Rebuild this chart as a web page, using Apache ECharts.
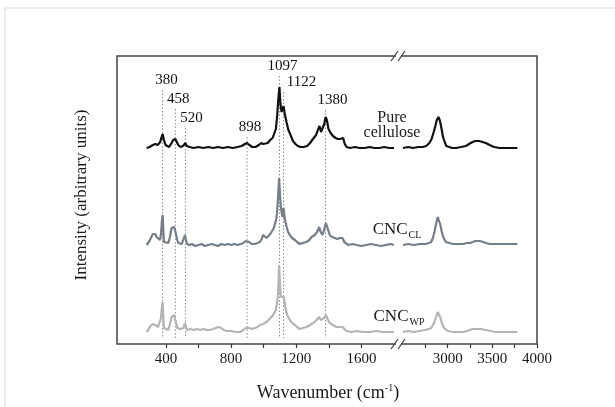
<!DOCTYPE html>
<html>
<head>
<meta charset="utf-8">
<script src="https://cdn.jsdelivr.net/npm/echarts@6/dist/echarts.min.js"></script>
<style>
  html, body { margin: 0; padding: 0; background: #fff; }
  #chart { width: 615px; height: 407px; }
</style>
</head>
<body>
<div id="chart"></div>
<script>
// spectra, [wavenumber, intensity + offset]
const pureLeft = [[282,196],[300,197],[320,199],[335,200],[350,199],[365,202],[372,206],[380,210],[388,204],[398,199],[410,198],[420,197],[435,201],[445,204],[458,205],[468,204],[476,199],[490,197],[505,198],[513,200],[520,201],[528,198],[545,197],[570,196],[600,197],[630,196],[660,197],[690,196],[720,197],[750,196],[780,197],[810,196],[840,197],[865,198],[885,200],[898,201],[912,199],[930,197],[950,197],[970,199],[985,201],[998,200],[1010,202],[1025,201],[1040,204],[1055,206],[1065,208],[1075,215],[1083,228],[1090,245],[1097,257],[1103,240],[1110,232],[1116,234],[1122,238],[1130,230],[1140,222],[1152,214],[1165,209],[1180,203],[1195,200],[1210,198],[1226,197],[1245,197],[1267,198],[1285,201],[1298,204],[1310,206],[1322,209],[1335,215],[1343,218],[1352,212],[1362,211],[1372,220],[1380,227],[1388,224],[1398,215],[1411,211],[1425,208],[1442,206],[1455,205],[1468,205],[1477,207],[1488,206],[1498,200],[1509,197],[1530,196],[1560,197],[1590,196],[1620,196],[1650,197],[1680,196],[1710,196],[1740,197],[1770,196],[1800,196]];
const pureRight = [[2500,196],[2560,197],[2611,196],[2670,197],[2722,197],[2760,198],[2796,201],[2820,205],[2844,212],[2862,218],[2878,224],[2897,227],[2910,224],[2919,221],[2932,215],[2944,209],[2955,205],[2967,202],[2985,198],[3000,197],[3050,196],[3093,196],[3150,197],[3204,198],[3240,200],[3278,202],[3310,203],[3330,204],[3352,203],[3390,202],[3426,201],[3470,199],[3519,197],[3580,196],[3648,196],[3700,196],[3760,196],[3780,196]];

const clLeft = [[282,99],[295,102],[305,105],[312,107],[320,110],[327,112],[335,110],[343,107],[352,105],[364,104],[370,110],[375,122],[380,129],[384,115],[388,102],[400,101],[415,101],[425,107],[435,116],[442,115],[450,117],[456,114],[462,112],[470,104],[476,101],[487,100],[497,100],[508,102],[517,109],[523,104],[531,100],[545,99],[560,100],[580,98],[600,99],[620,100],[640,98],[660,99],[680,100],[700,99],[720,98],[740,100],[760,99],[780,100],[800,99],[820,100],[840,99],[860,100],[875,101],[890,103],[901,105],[912,102],[926,100],[945,100],[962,101],[977,102],[988,105],[997,109],[1008,107],[1018,106],[1030,108],[1040,110],[1048,112],[1060,115],[1069,117],[1078,125],[1085,137],[1091,155],[1095,166],[1100,150],[1106,137],[1112,130],[1116,127],[1122,136],[1130,125],[1141,117],[1150,112],[1161,109],[1175,106],[1192,104],[1205,102],[1222,100],[1240,101],[1263,102],[1280,104],[1294,107],[1304,108],[1314,109],[1328,112],[1341,117],[1350,112],[1361,109],[1372,115],[1382,121],[1392,116],[1406,109],[1420,107],[1437,106],[1452,105],[1467,106],[1477,107],[1484,106],[1495,102],[1504,100],[1520,99],[1545,100],[1570,99],[1600,98],[1630,99],[1660,100],[1690,99],[1720,98],[1750,99],[1780,100],[1800,99]];
const clRight = [[2500,99],[2560,100],[2620,99],[2685,100],[2750,100],[2790,101],[2815,102],[2835,106],[2852,112],[2870,120],[2889,127],[2900,124],[2919,119],[2932,113],[2944,109],[2960,105],[2980,102],[3000,101],[3060,100],[3120,100],[3167,100],[3220,101],[3250,101],[3278,102],[3310,103],[3333,103],[3360,103],[3400,102],[3426,101],[3470,100],[3537,100],[3600,100],[3680,100],[3760,100],[3780,100]];

const wpLeft = [[282,12],[295,15],[305,18],[312,19],[320,20],[327,21],[335,19],[343,17],[352,17],[364,18],[370,26],[375,36],[380,42],[384,28],[388,16],[400,15],[415,14],[425,20],[435,27],[442,27],[450,29],[456,25],[462,22],[470,16],[476,14],[487,15],[497,15],[508,16],[517,21],[523,17],[531,14],[550,15],[570,14],[589,15],[610,14],[630,15],[650,14],[671,14],[690,15],[705,16],[722,17],[740,16],[755,14],[773,13],[800,13],[830,12],[855,12],[875,14],[890,16],[901,18],[912,16],[926,15],[945,16],[962,17],[977,19],[997,20],[1018,22],[1030,24],[1048,27],[1062,30],[1075,34],[1083,42],[1089,51],[1095,78],[1100,60],[1106,47],[1111,46],[1116,46],[1124,47],[1132,38],[1141,31],[1150,27],[1161,24],[1175,21],[1192,19],[1205,17],[1222,15],[1240,16],[1263,17],[1285,19],[1304,21],[1320,23],[1341,27],[1350,24],[1361,22],[1372,26],[1382,29],[1392,25],[1406,21],[1425,19],[1447,17],[1465,17],[1484,17],[1496,15],[1508,13],[1540,12],[1570,13],[1610,12],[1650,12],[1690,13],[1730,12],[1770,12],[1800,12]];
const wpRight = [[2500,12],[2560,13],[2620,12],[2685,13],[2750,14],[2790,15],[2815,16],[2835,19],[2852,22],[2870,27],[2889,32],[2900,30],[2919,26],[2932,22],[2944,19],[2960,16],[2980,14],[3000,13],[3060,12],[3120,12],[3167,12],[3220,13],[3278,15],[3310,15],[3333,15],[3370,15],[3426,14],[3480,13],[3537,12],[3600,12],[3680,12],[3760,12],[3780,12]];

// marked bands and where their dotted guide starts
const peaks = [380, 458, 520, 898, 1097, 1122, 1380];
const peakTops = [254, 235, 216, 207, 268, 252, 234];
const peakBottom = 6;

const leftTicks = [400, 600, 800, 1000, 1200, 1400, 1600];
const leftLabels = [400, 800, 1200, 1600];
const rightTicks = [2750, 3000, 3250, 3500, 3750, 4000];
const rightLabels = [3000, 3500, 4000];

const chart = echarts.init(document.getElementById('chart'));
const serif = 'Liberation Serif, Times New Roman, serif';
const labelOffsets = [4, 3, 6, 3, 3, 18, 7];

const xAxisBase = {
  type: 'value',
  axisLine: { show: false },
  splitLine: { show: false },
  axisTick: { show: true, inside: false, length: 4, lineStyle: { color: '#333', width: 1.2 } },
  axisLabel: { color: '#1a1a1a', fontFamily: serif, fontSize: 15, margin: 8, formatter: (v) => String(v) }
};
const yAxisBase = { type: 'value', min: 0, max: 288, show: false };

const spectrum = (data, color, idx) => ({
  type: 'line', data, xAxisIndex: idx, yAxisIndex: idx,
  showSymbol: false, silent: true,
  lineStyle: { color, width: 2.2 }
});

const guideSeries = peaks.map((wn, i) => ({
  type: 'line', xAxisIndex: 0, yAxisIndex: 0,
  data: [[wn, peakTops[i]], [wn, peakBottom]],
  showSymbol: false, silent: true,
  lineStyle: { color: '#888', width: 1, type: [1.5, 2] }
}));

const peakLabels = {
  type: 'scatter', xAxisIndex: 0, yAxisIndex: 0, silent: true,
  symbolSize: 2, itemStyle: { color: 'rgba(255,255,255,0)' },
  data: peaks.map((wn, i) => ({
    value: [wn, peakTops[i]],
    label: { offset: [labelOffsets[i], 0] }
  })),
  label: {
    show: true, position: 'top', distance: 1, opacity: 1,
    formatter: (p) => String(p.value[0]),
    color: '#111', fontFamily: serif, fontSize: 15
  },
  z: 5
};

const breakMark = (y) => [
  { type: 'rect', shape: { x: 396, y: y - 2, width: 5, height: 4 }, style: { fill: '#fff' }, z: 20 },
  { type: 'line', shape: { x1: 391, y1: y + 5, x2: 398, y2: y - 5 }, style: { stroke: '#444', lineWidth: 1.3 }, z: 21 },
  { type: 'line', shape: { x1: 398, y1: y + 5, x2: 405, y2: y - 5 }, style: { stroke: '#444', lineWidth: 1.3 }, z: 21 }
];

chart.setOption({
  backgroundColor: '#fff',
  animation: false,
  grid: [
    { left: 117, top: 56, width: 277, height: 288 },
    { left: 403, top: 56, width: 134, height: 288 }
  ],
  xAxis: [
    Object.assign({}, xAxisBase, {
      gridIndex: 0, min: 100, max: 1800,
      axisTick: Object.assign({}, xAxisBase.axisTick, { customValues: leftTicks }),
      axisLabel: Object.assign({}, xAxisBase.axisLabel, { customValues: leftLabels })
    }),
    Object.assign({}, xAxisBase, {
      gridIndex: 1, min: 2500, max: 4000,
      axisTick: Object.assign({}, xAxisBase.axisTick, { customValues: rightTicks }),
      axisLabel: Object.assign({}, xAxisBase.axisLabel, { customValues: rightLabels })
    })
  ],
  yAxis: [
    Object.assign({ gridIndex: 0 }, yAxisBase),
    Object.assign({ gridIndex: 1 }, yAxisBase)
  ],
  series: [
    ...guideSeries,
    peakLabels,
    spectrum(wpLeft, '#b4b4b4', 0),
    spectrum(wpRight, '#b4b4b4', 1),
    spectrum(clLeft, '#737e88', 0),
    spectrum(clRight, '#737e88', 1),
    spectrum(pureLeft, '#111', 0),
    spectrum(pureRight, '#111', 1)
  ],
  graphic: [
    { type: 'rect', shape: { x: 5, y: 8, width: 640, height: 430 }, style: { fill: 'none', stroke: '#d9d9d9', lineWidth: 1 }, z: 0 },
    { type: 'rect', shape: { x: 117, y: 56, width: 420, height: 288 }, style: { fill: 'none', stroke: '#444', lineWidth: 1.5 }, z: 10 },
    ...breakMark(56),
    ...breakMark(344),
    {
      type: 'text', x: 392, y: 125, z: 30,
      style: { text: 'Pure\ncellulose', fill: '#1a1a1a', font: '16px ' + serif, align: 'center', verticalAlign: 'middle', lineHeight: 15 }
    },
    {
      type: 'text', x: 397, y: 230, z: 30,
      style: {
        text: '{m|CNC}{s|CL}', align: 'center', verticalAlign: 'middle',
        rich: {
          m: { fontFamily: serif, fontSize: 17, fill: '#1a1a1a' },
          s: { fontFamily: serif, fontSize: 10, fill: '#1a1a1a', padding: [10, 0, 0, 1] }
        }
      }
    },
    {
      type: 'text', x: 399, y: 317, z: 30,
      style: {
        text: '{m|CNC}{s|WP}', align: 'center', verticalAlign: 'middle',
        rich: {
          m: { fontFamily: serif, fontSize: 17, fill: '#1a1a1a' },
          s: { fontFamily: serif, fontSize: 10, fill: '#1a1a1a', padding: [10, 0, 0, 1] }
        }
      }
    },
    {
      type: 'text', x: 328, y: 393, z: 30,
      style: {
        text: '{m|Wavenumber (cm}{s|-1}{m|)}', align: 'center', verticalAlign: 'middle',
        rich: {
          m: { fontFamily: serif, fontSize: 18, fill: '#1a1a1a' },
          s: { fontFamily: serif, fontSize: 10, fill: '#1a1a1a', padding: [0, 0, 10, 0] }
        }
      }
    },
    {
      type: 'text', x: 82, y: 195, rotation: Math.PI / 2, z: 30,
      style: { text: 'Intensity (arbitrary units)', fill: '#1a1a1a', font: '17px ' + serif, align: 'center', verticalAlign: 'middle' }
    }
  ]
});
</script>
</body>
</html>
